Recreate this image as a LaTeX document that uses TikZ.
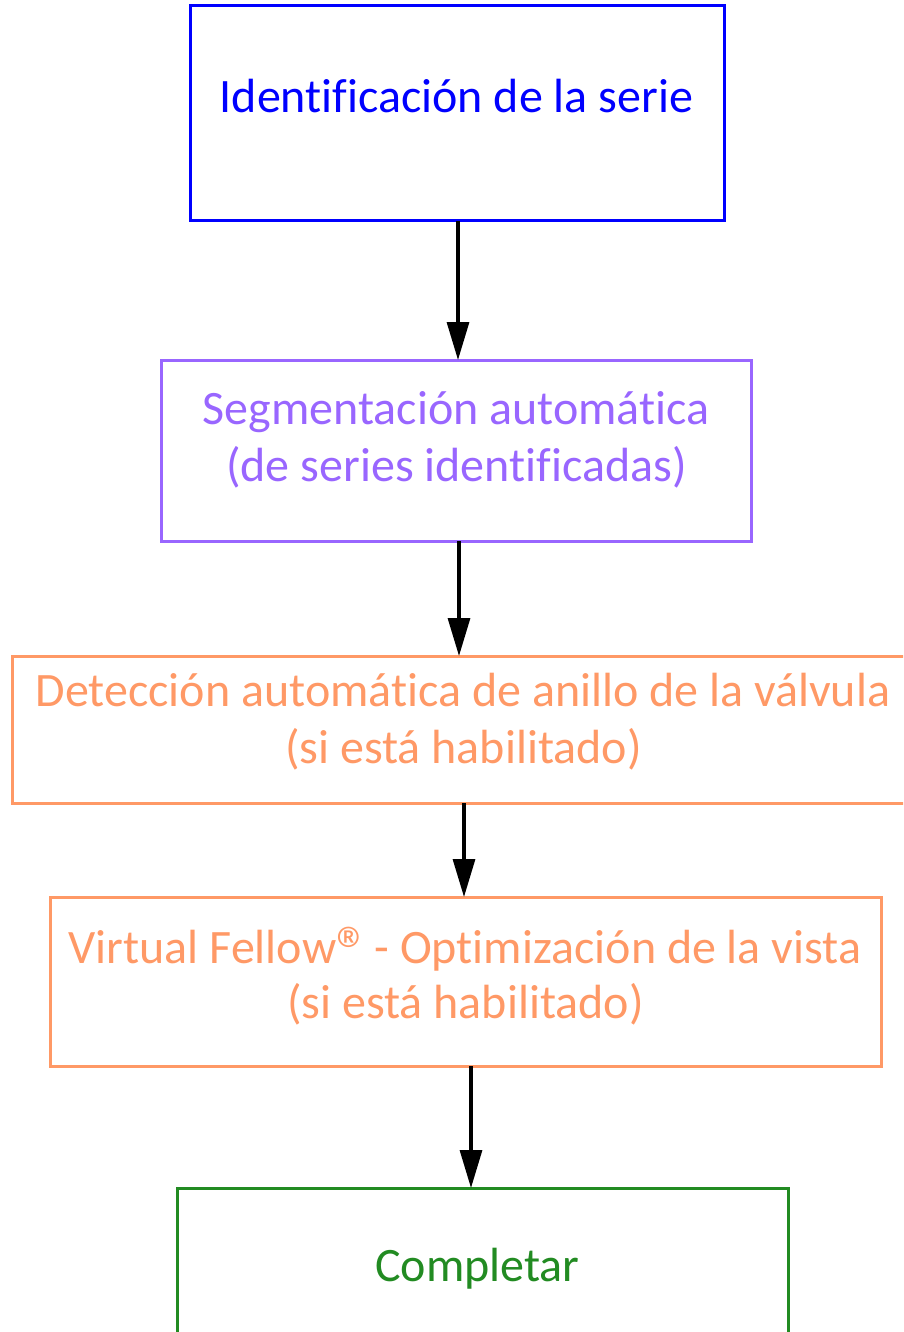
\documentclass[tikz,border=0pt]{standalone}
\usepackage{fontspec}
\usepackage{graphicx}
\setmainfont[Ligatures=CommonOff]{Carlito}
\usetikzlibrary{arrows.meta}
\definecolor{cblue}{RGB}{0,0,255}
\definecolor{cpurple}{RGB}{153,102,255}
\definecolor{corange}{RGB}{255,153,102}
\definecolor{cgreen}{RGB}{34,139,34}
\tikzset{
  box/.style={draw, line width=3pt, rectangle, inner sep=0pt, outer sep=0pt, fill=none},
  lbl/.style={anchor=base, inner sep=0pt, font=\fontsize{48}{57}\selectfont},
  arr/.style={line width=3.2pt, -{Triangle[length=38pt,width=22pt]}}
}
\begin{document}
\begin{tikzpicture}[x=1pt,y=-1pt]
\useasboundingbox (0,0) rectangle (903,1332);
\clip (0,0) rectangle (903,1332);
\fill[white] (0,0) rectangle (903,1332);
% boxes
\node[box, cblue, minimum width=534pt, minimum height=215pt] (b1) at (457,113.5) {};
\node[box, cpurple, minimum width=590pt, minimum height=181pt] (b2) at (456,450.5) {};
\node[box, corange, minimum width=902pt, minimum height=147pt] (b3) at (463,729.5) {};
\node[box, corange, minimum width=831pt, minimum height=169pt] (b4) at (465.5,981.5) {};
\node[box, cgreen, minimum width=611pt, minimum height=160pt] (b5) at (482.5,1268) {};
% texts
\node[lbl, text=cblue] (t1) at (456.5,113) {Identificación de la serie};
\node[lbl, text=cpurple] (t2a) at (456,424) {Segmentación automática};
\node[lbl, text=cpurple] (t2b) at (456.5,481) {(de series identificadas)};
\node[lbl, text=corange] (t3a) at (463,706) {Detección automática de anillo de la válvula};
\node[lbl, text=corange] (t3b) at (463.5,763) {(si está habilitado)};
\node[lbl, text=corange] (t4a) at (465,963) {Virtual Fellow\raisebox{-10pt}[0pt][0pt]{\scalebox{1.4}{®}}\hspace{4pt}- Optimización de la vista};
\node[lbl, text=corange] (t4b) at (465.5,1018) {(si está habilitado)};
\node[lbl, text=cgreen] (t5) at (477.5,1281) {Completar};
% arrows
\draw[arr] ([xshift=1pt]b1.south) -- ([xshift=2pt]b2.north);
\draw[arr] ([xshift=3pt]b2.south) -- ([xshift=-4pt]b3.north);
\draw[arr] ([xshift=1pt]b3.south) -- ([xshift=-1.5pt]b4.north);
\draw[arr] ([xshift=5.5pt]b4.south) -- ([xshift=-11.5pt]b5.north);
\end{tikzpicture}
\end{document}
